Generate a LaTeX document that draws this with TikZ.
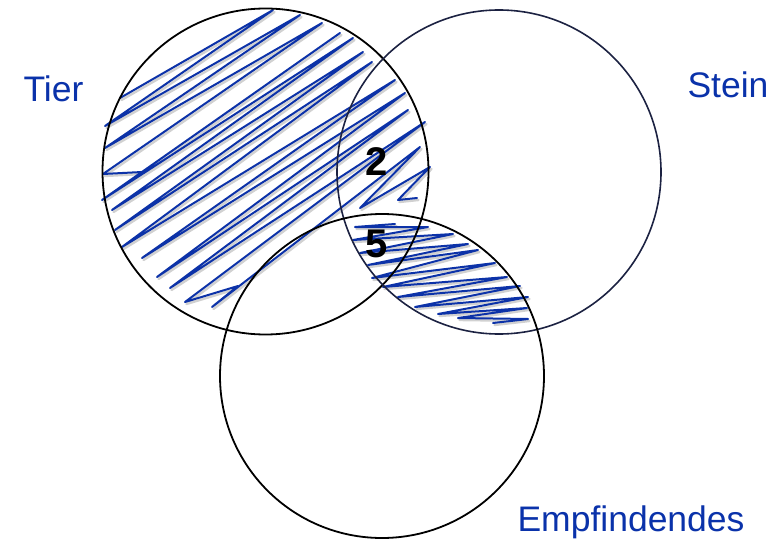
\documentclass[tikz,border=0pt]{standalone}
\usepackage{fontspec}
\setmainfont{Liberation Sans}
\definecolor{hatchblue}{RGB}{12,50,168}
\definecolor{labelblue}{RGB}{10,50,170}
\definecolor{navyline}{RGB}{28,34,66}
\begin{document}
\begin{tikzpicture}[x=1pt,y=-1pt]
	\useasboundingbox (0,0) rectangle (776,540);
	\tikzset{
		setlabel/.style={anchor=base west, text=labelblue, font=\fontsize{35.5}{40}\selectfont},
		countlabel/.style={anchor=base, font=\fontsize{40}{46}\selectfont\bfseries},
		scribble/.style={draw=hatchblue, line width=2pt, line join=round, line cap=round},
		scribbleshadow/.style={draw=black!18, line width=2.4pt, line join=round, line cap=round, shift={(1.5,2)}}
	}
	\coordinate (tierC) at (265.5,171.5);
	\coordinate (steinC) at (499,172);
	\coordinate (empfC) at (382,376);
	% hatching of Tier
	\foreach \sty in {scribbleshadow,scribble}{
		\draw[\sty] (120,98) -- (273,10) -- (105,126) -- (300,15) -- (105,148) -- (322,23)
			-- (103,174) -- (142,172) -- (340,33) -- (102,200) -- (353,38) -- (112,210)
			-- (363,52) -- (115,230) -- (372,62) -- (122,247) -- (395,80) -- (142,258)
			-- (405,93) -- (157,277) -- (408,110) -- (170,288) -- (425,122) -- (185,302)
			-- (238,286) -- (212,307) -- (420,147) -- (360,208) -- (430,167) -- (398,200)
			-- (417,198);
		% hatching of Stein and Empfindendes
		\draw[\sty] (395,224) -- (355,227) -- (428,227) -- (353,240) -- (453,234) -- (360,253)
			-- (468,244) -- (368,265) -- (478,250) -- (372,278) -- (495,263) -- (383,287)
			-- (507,277) -- (398,297) -- (520,286) -- (415,307) -- (528,297) -- (438,314)
			-- (527,308) -- (458,318) -- (528,319) -- (493,323);
	}
	% the three sets
	\draw[line width=1.8pt] (tierC) circle (163);
	\draw[line width=1.6pt, navyline] (steinC) circle (162);
	\draw[line width=1.8pt] (empfC) circle (162);
	\node[setlabel] (tier) at (20,102) {Tier};
	\node[setlabel] (stein) at (684,98) {Stein};
	\node[setlabel] (empf) at (514,531) {Empfindendes};
	\node[countlabel] (two) at (377,176) {2};
	\node[countlabel] (five) at (377,257) {5};
\end{tikzpicture}
\end{document}
